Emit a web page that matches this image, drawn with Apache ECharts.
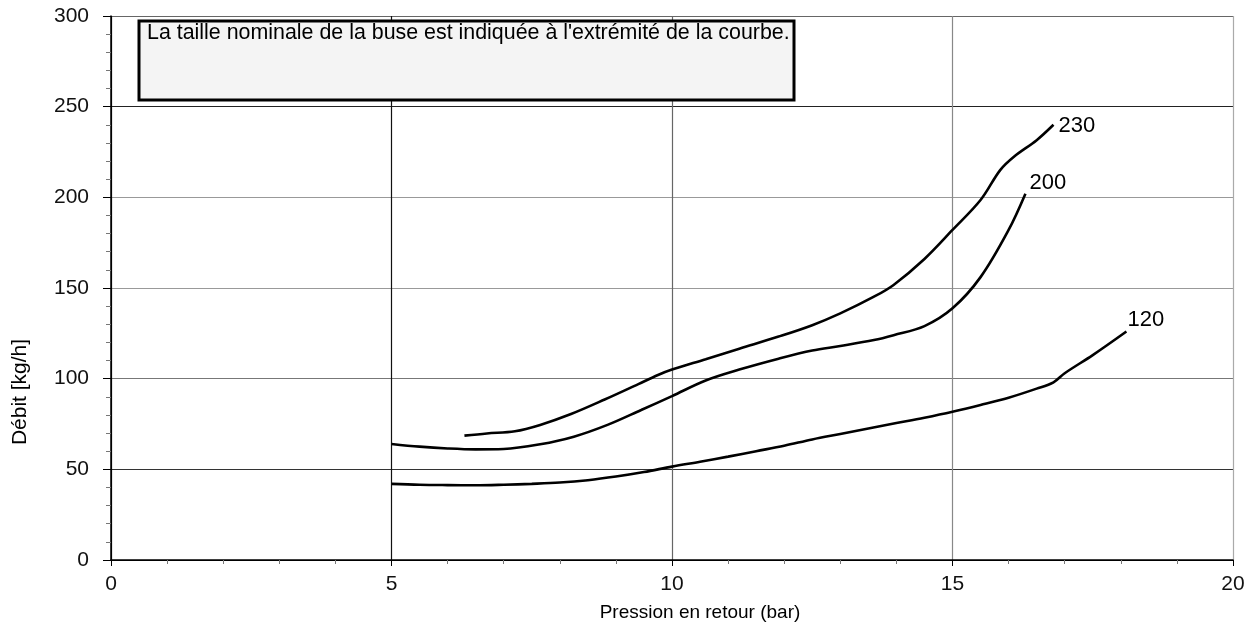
<!DOCTYPE html>
<html><head><meta charset="utf-8">
<script src="https://cdn.jsdelivr.net/npm/echarts@6/dist/echarts.min.js"></script>
<style>html,body{margin:0;padding:0;background:#fff}#c{width:1256px;height:630px}</style>
</head><body><div id="c"></div>
<script>
const xTicks = [0, 5, 10, 15, 20];
const yTicks = [0, 50, 100, 150, 200, 250, 300];
const seriesNames = ['230', '200', '120'];
const curve230 = [[6.3,68.6],[6.7,69.8],[7.2,71],[7.65,74.5],[8.2,80.5],[8.8,88.5],[9.4,97],[9.75,102],[10,105],[10.6,110.7],[11.2,116.5],[11.9,123.2],[12.5,129.5],[13,136],[13.6,145.2],[13.95,151.7],[14.5,166],[15,182],[15.5,198.5],[15.85,215],[16.1,222.5],[16.5,231.5],[16.8,240]];
const curve200 = [[5,64],[5.5,62.5],[6,61.5],[6.5,61],[7,61.2],[7.65,63.8],[8.25,68],[8.85,74.5],[9.45,82.7],[10,90.4],[10.6,99],[11.2,105],[11.9,111],[12.5,115.5],[13,118],[13.6,121.3],[13.95,124],[14.5,129],[15,138.8],[15.5,156],[16,182],[16.3,202]];
const curve120 = [[5,42],[5.5,41.5],[6,41.3],[6.5,41.2],[7,41.5],[7.5,42],[8,42.7],[8.5,44],[9,46],[9.5,48.5],[10,51.5],[10.5,54.2],[11,57],[11.5,60],[12,63],[12.5,66.5],[13,69.5],[13.5,72.5],[14,75.5],[14.5,78.5],[15,81.8],[15.5,85.5],[16,89.5],[16.5,94.5],[16.8,98],[17,103],[17.5,113],[18.1,126]];
const noteText = "La taille nominale de la buse est indiquée à l'extrémité de la courbe.";
const xName = 'Pression en retour (bar)';
const yName = 'Débit [kg/h]';

const FONT = 'Liberation Sans, Arial, sans-serif';
const chart = echarts.init(document.getElementById('c'));
function mk(name, data, off) {
  return {
    name: name, type: 'line', data: data, smooth: 0.35, showSymbol: false,
    lineStyle: { color: '#000', width: 2.6 }, itemStyle: { color: '#000' },
    endLabel: { show: true, formatter: '{a}', color: '#000', fontSize: 22, fontFamily: FONT, offset: off },
    z: 5
  };
}
chart.setOption({
  animation: false,
  backgroundColor: '#fff',
  grid: { left: 111, right: 23, top: 16, bottom: 70 },
  xAxis: {
    type: 'value', min: xTicks[0], max: xTicks[xTicks.length - 1], interval: 5,
    name: xName, nameLocation: 'middle', nameGap: 43,
    nameTextStyle: { fontSize: 19, color: '#000', fontFamily: FONT, padding: [0, 0, 0, 56] },
    axisLine: { lineStyle: { color: '#000', width: 1.5 } },
    axisTick: { show: true, length: 6, lineStyle: { color: '#000' } },
    minorTick: { show: true, splitNumber: 5, length: 4, lineStyle: { color: '#777' } },
    axisLabel: { fontSize: 21, color: '#111', fontFamily: FONT, margin: 14 },
    splitLine: { show: true, lineStyle: { color: ['#000', '#111', '#666', '#888', '#aaa'], width: 1.2 } }
  },
  yAxis: {
    type: 'value', min: yTicks[0], max: yTicks[yTicks.length - 1], interval: 50,
    axisLine: { show: true, lineStyle: { color: '#000', width: 1.5 } },
    axisTick: { show: true, length: 8, lineStyle: { color: '#000' } },
    minorTick: { show: true, splitNumber: 5, length: 5, lineStyle: { color: '#777' } },
    axisLabel: { fontSize: 21, color: '#111', fontFamily: FONT, margin: 22 },
    splitLine: { show: true, lineStyle: { color: ['#000', '#333', '#777', '#999', '#999', '#222', '#666'], width: 1.2 } }
  },
  series: [
    mk(seriesNames[0], curve230, [-3, 1]),
    mk(seriesNames[1], curve200, [-4, -11]),
    mk(seriesNames[2], curve120, [-7, -12])
  ],
  graphic: [
    { type: 'rect', shape: { x: 139, y: 21, width: 655, height: 79 },
      style: { fill: '#f4f4f4', stroke: '#000', lineWidth: 3 }, z: 10 },
    { type: 'text', x: 147, y: 33, z: 11,
      style: { text: noteText, fontSize: 21.4, fontFamily: FONT, fill: '#000', textVerticalAlign: 'middle', verticalAlign: 'middle' } },
    { type: 'text', x: 20, y: 392, rotation: Math.PI / 2, z: 11,
      style: { text: yName, fontSize: 21, fontFamily: FONT, fill: '#000', textAlign: 'center', align: 'center', textVerticalAlign: 'middle', verticalAlign: 'middle' } }
  ]
});
</script></body></html>
